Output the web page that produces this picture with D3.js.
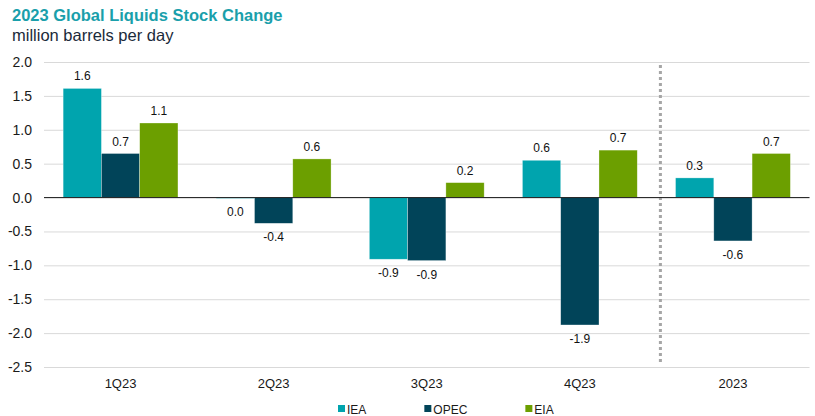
<!DOCTYPE html>
<html><head><meta charset="utf-8">
<script src="https://cdn.jsdelivr.net/npm/d3@7/dist/d3.min.js"></script>
<style>body{margin:0;background:#fff}svg{display:block;font-family:"Liberation Sans",Arial,sans-serif}</style>
</head><body>
<svg id="c" width="815" height="416"></svg>
<script>
const categories = ["1Q23","2Q23","3Q23","4Q23","2023"];
const seriesNames = ["IEA","OPEC","EIA"];
const iea  = [1.61, -0.01, -0.91, 0.55, 0.29];
const opec = [0.65, -0.38, -0.93, -1.88, -0.64];
const eia  = [1.10, 0.57, 0.22, 0.70, 0.65];
const yTicks = [2.0,1.5,1.0,0.5,0.0,-0.5,-1.0,-1.5,-2.0,-2.5];
const colors = ["#00a4ae","#014459","#6c9f00"];

const series = [iea, opec, eia];
const svg = d3.select("#c");
const L = 44, R = 809.5, T = 62, B = 367;

const y = d3.scaleLinear().domain([-2.5, 2.0]).range([B, T]);
const x0 = d3.scaleBand().domain(categories).range([L, R]).paddingInner(0.25).paddingOuter(0.125);
const x1 = d3.scaleBand().domain(seriesNames).range([0, x0.bandwidth()]);

// title
svg.append("text").attr("x",12).attr("y",21).attr("fill","#1a9fab")
  .attr("font-size","16.5px").attr("font-weight","bold").text("2023 Global Liquids Stock Change");
svg.append("text").attr("x",12).attr("y",41).attr("fill","#1b2a3a")
  .attr("font-size","16.5px").text("million barrels per day");

// gridlines
const yAxis = d3.axisLeft(y).tickValues(yTicks).tickSize(-(R - L)).tickPadding(12)
  .tickFormat(d => d.toFixed(1).replace("\u2212","-"));
const ga = svg.append("g").attr("transform",`translate(${L},0)`).call(yAxis);
ga.select(".domain").remove();
ga.selectAll(".tick line").attr("stroke","#d9d9d9").attr("stroke-width",1);
ga.selectAll(".tick text").attr("font-size","14px").attr("fill","#1a1a1a")
  .attr("font-family","'Liberation Sans',Arial,sans-serif");

// dotted separator between 4Q23 and 2023
const sepX = x0("2023") - x0.step()*x0.paddingInner()/2 + 4;
svg.append("line").attr("x1",sepX).attr("x2",sepX).attr("y1",T+3).attr("y2",B-2)
  .attr("stroke","#a6a6a6").attr("stroke-width",3).attr("stroke-dasharray","3,3");

// bars
const fmt = v => (Math.round(v*10)/10).toFixed(1);
categories.forEach((c, ci) => {
  const g = svg.append("g").attr("transform",`translate(${x0(c)},0)`);
  seriesNames.forEach((s, si) => {
    const v = series[si][ci];
    g.append("rect").attr("x", x1(s)).attr("width", x1.bandwidth())
      .attr("y", y(Math.max(0, v))).attr("height", Math.max(0.8, Math.abs(y(v) - y(0))))
      .attr("fill", colors[si]).attr("stroke","#ffffff").attr("stroke-opacity",0.5).attr("stroke-width",0.6);
    g.append("text").attr("x", x1(s) + x1.bandwidth()/2)
      .attr("y", v >= 0 ? y(v) - 8 : y(v) + 18)
      .attr("text-anchor","middle").attr("font-size","12px").attr("fill","#111")
      .text(fmt(v));
  });
});

// zero line
svg.append("line").attr("x1",L).attr("x2",R).attr("y1",y(0)).attr("y2",y(0))
  .attr("stroke","#222").attr("stroke-width",1);

// category axis labels
const xAxis = d3.axisBottom(x0).tickSize(0).tickPadding(0);
const gx = svg.append("g").attr("transform",`translate(0,${B+12})`).call(xAxis);
gx.select(".domain").remove();
gx.selectAll(".tick text").attr("font-size","13px").attr("fill","#1a1a1a")
  .attr("font-family","'Liberation Sans',Arial,sans-serif");

// legend
const lg = svg.append("g").attr("transform","translate(338,409)");
let lx = 0;
seriesNames.forEach((s, i) => {
  const it = lg.append("g").attr("transform",`translate(${lx},0)`);
  it.append("rect").attr("x",0).attr("y",-4).attr("width",7).attr("height",7).attr("fill",colors[i]);
  const t = it.append("text").attr("x",9).attr("y",4.5).attr("font-size","12px").attr("fill","#1a1a1a").text(s);
  lx += 9 + t.node().getComputedTextLength() + 58;
});
</script>
</body></html>
